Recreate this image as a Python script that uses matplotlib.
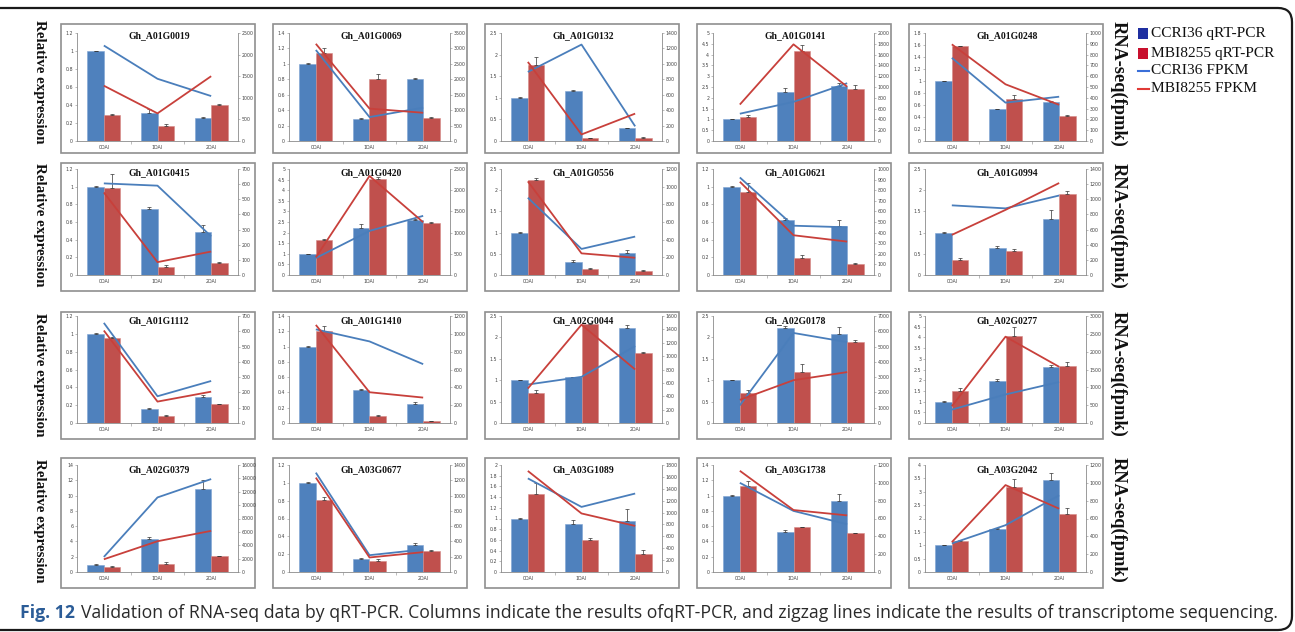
import numpy as np
import matplotlib
matplotlib.use("Agg")
import matplotlib.pyplot as plt
from matplotlib.patches import Rectangle, FancyBboxPatch
from matplotlib.lines import Line2D

W, H = 1295, 632

days = ["0DAI", "1DAI", "2DAI"]
genes = ["Gh_A01G0019", "Gh_A01G0069", "Gh_A01G0132", "Gh_A01G0141", "Gh_A01G0248",
         "Gh_A01G0415", "Gh_A01G0420", "Gh_A01G0556", "Gh_A01G0621", "Gh_A01G0994",
         "Gh_A01G1112", "Gh_A01G1410", "Gh_A02G0044", "Gh_A02G0178", "Gh_A02G0277",
         "Gh_A02G0379", "Gh_A03G0677", "Gh_A03G1089", "Gh_A03G1738", "Gh_A03G2042"]

# relative expression (qRT-PCR)
ccri36_qpcr = [[1.0, 0.31, 0.26], [1.0, 0.28, 0.81], [1.0, 1.16, 0.29], [1.0, 2.25, 2.55], [1.0, 0.53, 0.65],
               [1.0, 0.745, 0.49], [1.0, 2.22, 2.6], [1.0, 0.31, 0.53], [1.0, 0.62, 0.56], [1.0, 0.64, 1.32],
               [1.0, 0.155, 0.29], [1.0, 0.435, 0.25], [1.0, 1.07, 2.22], [1.0, 2.23, 2.07], [1.0, 1.94, 2.62],
               [0.97, 4.35, 10.85], [1.0, 0.145, 0.3], [1.0, 0.89, 0.955], [1.0, 0.52, 0.935], [1.0, 1.62, 3.45]]
mbi8255_qpcr = [[0.29, 0.165, 0.395], [1.14, 0.80, 0.30], [1.75, 0.06, 0.08], [1.1, 4.15, 2.4], [1.58, 0.70, 0.41],
                [0.98, 0.09, 0.14], [1.67, 4.52, 2.47], [2.24, 0.14, 0.09], [0.94, 0.19, 0.125], [0.36, 0.57, 1.92],
                [0.955, 0.08, 0.21], [1.2, 0.095, 0.025], [0.71, 2.32, 1.63], [0.71, 1.2, 1.9], [1.48, 4.07, 2.65],
                [0.7, 1.05, 2.05], [0.805, 0.125, 0.24], [1.45, 0.6, 0.345], [1.12, 0.585, 0.505], [1.16, 3.17, 2.17]]
ccri36_err = [[0.005, 0.05, 0.01], [0.005, 0.02, 0.01], [0.01, 0.02, 0.02], [0.01, 0.22, 0.15], [0.005, 0.01, 0.02],
              [0.005, 0.02, 0.08], [0.01, 0.2, 0.05], [0.01, 0.04, 0.07], [0.005, 0.02, 0.06], [0.01, 0.04, 0.21],
              [0.005, 0.01, 0.02], [0.005, 0.005, 0.03], [0.01, 0.01, 0.08], [0.005, 0.03, 0.17], [0.01, 0.1, 0.1],
              [0.05, 0.25, 1.2], [0.005, 0.01, 0.03], [0.005, 0.09, 0.22], [0.005, 0.035, 0.09], [0.005, 0.03, 0.25]]
mbi8255_err = [[0.01, 0.02, 0.015], [0.07, 0.07, 0.015], [0.2, 0.02, 0.02], [0.12, 0.3, 0.18], [0.01, 0.06, 0.02],
               [0.16, 0.02, 0.005], [0.05, 0.08, 0.02], [0.04, 0.03, 0.02], [0.1, 0.04, 0.01], [0.04, 0.04, 0.05],
               [0.01, 0.01, 0.005], [0.07, 0.005, 0.005], [0.05, 0.01, 0.02], [0.07, 0.19, 0.05], [0.15, 0.42, 0.2],
               [0.07, 0.2, 0.1], [0.04, 0.02, 0.005], [0.22, 0.04, 0.06], [0.07, 0.01, 0.01], [0.05, 0.3, 0.22]]

# RNA-seq (FPKM)
ccri36_fpkm = [[2210, 1440, 1040], [2950, 775, 1080], [895, 1250, 190], [505, 725, 1070], [770, 355, 410],
               [605, 590, 255], [400, 1040, 1395], [875, 295, 435], [920, 465, 450], [920, 880, 1050],
               [655, 175, 275], [1050, 915, 660], [575, 690, 1150], [1150, 5890, 5290], [375, 800, 1150],
               [2250, 11150, 13900], [1300, 220, 295], [1575, 1095, 1320], [1000, 685, 535], [320, 525, 860]]
mbi8255_fpkm = [[1280, 640, 1500], [3150, 1050, 915], [1025, 85, 355], [675, 1790, 1005], [895, 525, 335],
                [545, 85, 155], [415, 2335, 1245], [1060, 245, 195], [880, 375, 315], [530, 860, 1215],
                [605, 140, 205], [1100, 345, 285], [515, 1470, 800], [1515, 2800, 3330], [470, 2420, 1575],
                [1900, 4600, 6150], [1235, 190, 260], [1700, 985, 775], [1135, 695, 635], [335, 975, 710]]

# axis scales (max, step)
left_scale = [(1.2, 0.2), (1.4, 0.2), (2.5, 0.5), (5, 0.5), (1.8, 0.2),
              (1.2, 0.2), (5, 0.5), (2.5, 0.5), (1.2, 0.2), (2.5, 0.5),
              (1.2, 0.2), (1.4, 0.2), (2.5, 0.5), (2.5, 0.5), (5, 0.5),
              (14, 2), (1.2, 0.2), (2, 0.2), (1.4, 0.2), (4, 0.5)]
right_scale = [(2500, 500), (3500, 500), (1400, 200), (2000, 200), (1000, 100),
               (700, 100), (2500, 500), (1200, 200), (1000, 100), (1400, 200),
               (700, 100), (1200, 200), (1600, 200), (7000, 1000), (3000, 500),
               (16000, 2000), (1400, 200), (1800, 200), (1200, 200), (1200, 200)]

legend_labels = ["CCRI36 qRT-PCR", "MBI8255 qRT-PCR", "CCRI36 FPKM", "MBI8255 FPKM"]
caption_bold = "Fig. 12"
caption_text = ("Validation of RNA-seq data by qRT-PCR. Columns indicate the results ofqRT-PCR, "
                "and zigzag lines indicate the results of transcriptome sequencing.")

BAR_BLUE, BAR_RED = "#4f81bd", "#c0504d"
LINE_BLUE, LINE_RED = "#4a7ebb", "#c8403b"
SERIF = "Liberation Serif"

fig = plt.figure(figsize=(W / 100, H / 100), dpi=100)
bg = fig.add_axes([0, 0, 1, 1])
bg.set_xlim(0, W)
bg.set_ylim(H, 0)
bg.axis("off")
bg.set_zorder(-1)


def fig_rect(x0, y0, x1, y1):
    return [x0 / W, 1 - y1 / H, (x1 - x0) / W, (y1 - y0) / H]


box_x = [61, 273, 485, 697, 909]
box_w = 194
box_top = [24, 163, 312, 458]
box_bot = [153, 291, 439, 588]
plot_top = [33, 169, 316, 465]
plot_bot = [141, 275, 423, 572]
title_drop = [2.5, 4, 5, 5]


def fmt(v):
    return f"{v:g}"


x = np.arange(3)
bw = 0.31
for i, gene in enumerate(genes):
    r, c = divmod(i, 5)
    bx = box_x[c]
    bg.add_patch(Rectangle((bx, box_top[r]), box_w, box_bot[r] - box_top[r],
                           fill=False, ec="#8f8f8f", lw=1.2))
    ax = fig.add_axes(fig_rect(bx + 16, plot_top[r], bx + 177, plot_bot[r]))
    ax.set_facecolor("none")
    ax2 = ax.twinx()

    ax.bar(x - bw / 2, ccri36_qpcr[i], bw, color=BAR_BLUE, ec="#7ea3d3", lw=0.4, zorder=2)
    ax.bar(x + bw / 2, mbi8255_qpcr[i], bw, color=BAR_RED, ec="#d68a88", lw=0.4, zorder=2)
    ax.errorbar(x - bw / 2, ccri36_qpcr[i], yerr=[np.zeros(3), ccri36_err[i]], fmt="none",
                ecolor="#333333", elinewidth=0.5, capsize=1.2, capthick=0.5, zorder=3)
    ax.errorbar(x + bw / 2, mbi8255_qpcr[i], yerr=[np.zeros(3), mbi8255_err[i]], fmt="none",
                ecolor="#333333", elinewidth=0.5, capsize=1.2, capthick=0.5, zorder=3)

    ax2.plot(x, ccri36_fpkm[i], color=LINE_BLUE, lw=1.3, solid_capstyle="butt")
    ax2.plot(x, mbi8255_fpkm[i], color=LINE_RED, lw=1.3, solid_capstyle="butt")

    lmax, lstep = left_scale[i]
    rmax, rstep = right_scale[i]
    ax.set_ylim(0, lmax)
    ax2.set_ylim(0, rmax)
    ax.set_xlim(-0.5, 2.5)
    lt = np.arange(0, lmax + lstep / 2, lstep)
    rt = np.arange(0, rmax + rstep / 2, rstep)
    ax.set_yticks(lt, [fmt(round(v, 2)) for v in lt])
    ax2.set_yticks(rt, [fmt(round(v, 2)) for v in rt])
    ax.set_xticks(x, days)
    ax.set_xticks([0.5, 1.5], minor=True)

    for a in (ax, ax2):
        for s in a.spines.values():
            s.set_visible(False)
            s.set_color("#8a8a8a")
            s.set_linewidth(0.6)
    ax.spines["left"].set_visible(True)
    ax.spines["bottom"].set_visible(True)
    ax2.spines["right"].set_visible(True)

    ax.tick_params(axis="y", direction="out", length=1.5, width=0.4, color="#8a8a8a",
                   labelsize=3.4, pad=1.2, labelcolor="#444444")
    ax2.tick_params(axis="y", direction="out", length=1.5, width=0.4, color="#8a8a8a",
                    labelsize=3.4, pad=1.2, labelcolor="#444444")
    ax.tick_params(axis="x", which="major", length=0, labelsize=3.4, pad=3, labelcolor="#444444")
    ax.tick_params(axis="x", which="minor", length=1.8, width=0.4, color="#8a8a8a")

    bg.text(bx + box_w / 2 + 1, plot_top[r] + title_drop[r], gene, ha="center", va="center",
            family=SERIF, weight="bold", fontsize=6.9, color="#111111")

# row annotations
left_centers = [82, 225, 375, 521]
right_centers = [84, 226, 374, 520]
for yc in left_centers:
    bg.text(39, yc, "Relative expression", rotation=270, ha="center", va="center",
            family=SERIF, weight="bold", fontsize=10.8, color="#111111")
for yc in right_centers:
    bg.text(1118, yc, "RNA-seq(fpmk)", rotation=270, ha="center", va="center",
            family=SERIF, weight="bold", fontsize=13.2, color="#111111")

# legend
leg_y = [33, 53, 71, 89]
bg.add_patch(Rectangle((1138, leg_y[0] - 5.5), 10, 11, color="#1f2fa0", lw=0))
bg.add_patch(Rectangle((1138, leg_y[1] - 5.5), 10, 11, color="#c8102e", lw=0))
bg.add_line(Line2D([1138, 1149], [leg_y[2], leg_y[2]], color="#3a6fd8", lw=1.5))
bg.add_line(Line2D([1138, 1149], [leg_y[3], leg_y[3]], color="#e03a36", lw=1.5))
for yy, lab in zip(leg_y, legend_labels):
    bg.text(1151, yy, lab, ha="left", va="center", family=SERIF, fontsize=11.1, color="#111111")

# outer frame
bg.add_patch(FancyBboxPatch((-30, 8), 1322, 622, boxstyle="round,pad=0,rounding_size=14",
                            fill=False, ec="#1a1a1a", lw=1.6))

# caption, sized to span the frame width
fig.canvas.draw()
rend = fig.canvas.get_renderer()
cap_x, cap_y, target = 20, 613, 1253


def caption_width(size):
    a = bg.text(0, 0, caption_bold, family="Open Sans", weight="bold", fontsize=size)
    b = bg.text(0, 0, caption_text, family="Open Sans", fontsize=size)
    wa = a.get_window_extent(rend).width
    wb = b.get_window_extent(rend).width
    a.remove()
    b.remove()
    return wa, wb


cap_size = 13.0
for _ in range(4):
    wa, wb = caption_width(cap_size)
    cap_size *= target / (wa + cap_size * 0.45 + wb)
wa, wb = caption_width(cap_size)

bg.text(cap_x, cap_y, caption_bold, ha="left", va="center", family="Open Sans",
        weight="bold", fontsize=cap_size, color="#2b5c97")
bg.text(cap_x + wa + cap_size * 0.45, cap_y, caption_text, ha="left", va="center",
        family="Open Sans", fontsize=cap_size, color="#2a2a2a")

fig.savefig("out.png", dpi=100)
